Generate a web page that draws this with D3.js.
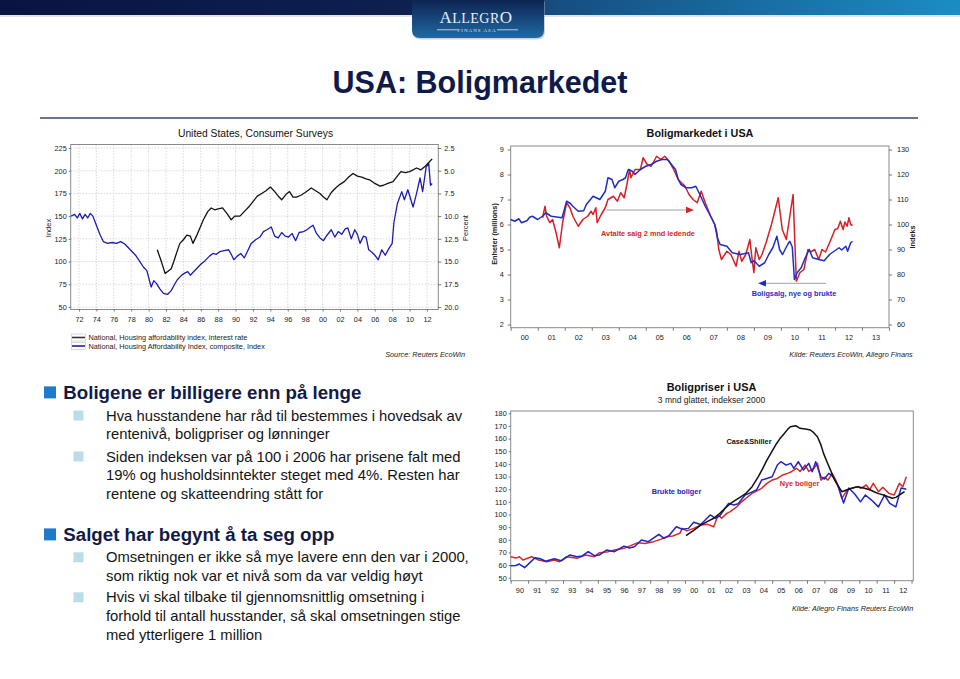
<!DOCTYPE html>
<html><head><meta charset="utf-8">
<script src="https://cdn.jsdelivr.net/npm/d3@7"></script>
<style>
html,body{margin:0;padding:0;background:#fff;}
svg{display:block;font-family:"Liberation Sans",Arial,sans-serif;}
</style></head><body>
<svg id="s" width="960" height="679"></svg>
<script>
// ================= DATA =================
const slideTitle = "USA: Boligmarkedet";

// --- Top-left chart: United States, Consumer Surveys ---
const tlTitle = "United States, Consumer Surveys";
const tlLeftTicks = [50, 75, 100, 125, 150, 175, 200, 225];
const tlRightTicks = [2.5, 5, 7.5, 10, 12.5, 15, 17.5, 20];
const tlYearTicks = [1972,1974,1976,1978,1980,1982,1984,1986,1988,1990,1992,1994,1996,1998,2000,2002,2004,2006,2008,2010,2012];
const tlLegend = ["National, Housing affordability index, interest rate", "National, Housing Affordability Index, composite, Index"];
// interest rate (percent, right axis, inverted)
const rateYears = [1981.0,1981.4,1981.9,1982.2,1982.6,1982.9,1983.2,1983.6,1984.0,1984.4,1984.8,1985.1,1985.5,1985.9,1986.3,1986.8,1987.2,1987.6,1988.0,1988.5,1989.0,1989.5,1989.9,1990.5,1991.0,1991.5,1992.0,1992.5,1993.0,1993.5,1994.0,1994.5,1995.0,1995.3,1995.8,1996.2,1996.6,1997.0,1997.5,1998.0,1998.7,1999.2,1999.7,2000.1,2000.5,2001.0,2001.5,2002.0,2002.5,2003.0,2003.5,2004.0,2004.5,2005.0,2005.4,2006.0,2006.6,2007.0,2007.5,2008.1,2008.5,2009.0,2009.5,2010.0,2010.8,2011.3,2011.8,2012.2,2012.6];
const rateValues = [13.7,14.8,16.3,16.1,15.8,15.0,14.1,13.0,12.6,12.1,12.2,13.0,12.2,11.3,10.4,9.5,9.1,9.3,9.2,9.1,9.7,10.4,10.0,10.0,9.5,9.0,8.4,7.8,7.5,7.2,6.8,7.3,7.9,8.2,7.6,7.3,7.9,7.9,7.7,7.4,6.9,7.2,7.5,7.9,8.2,7.4,6.9,6.5,6.2,5.7,5.3,5.6,5.7,5.9,6.0,6.4,6.7,6.6,6.4,6.2,5.7,5.1,5.2,5.1,4.7,4.9,4.5,4.1,3.7];
// composite affordability index (left axis)
const compYears = [1971.1,1971.5,1971.8,1972.1,1972.4,1972.7,1973.0,1973.3,1973.6,1974.0,1974.4,1974.8,1975.3,1975.8,1976.3,1976.8,1977.3,1977.9,1978.5,1979.0,1979.4,1979.8,1980.3,1980.6,1980.9,1981.3,1981.7,1982.2,1982.6,1983.0,1983.3,1983.7,1984.1,1984.5,1984.8,1985.2,1985.6,1986.0,1986.5,1987.0,1987.4,1987.8,1988.2,1988.7,1989.2,1989.5,1989.8,1990.2,1990.6,1991.0,1991.4,1991.8,1992.3,1992.8,1993.2,1993.6,1994.1,1994.5,1994.9,1995.3,1995.7,1996.1,1996.5,1996.9,1997.3,1997.8,1998.2,1998.6,1998.9,1999.3,1999.7,2000.1,2000.5,2001.0,2001.4,2001.8,2002.2,2002.6,2002.9,2003.3,2003.7,2004.0,2004.3,2004.7,2005.0,2005.3,2005.7,2006.0,2006.4,2006.8,2007.2,2007.6,2008.0,2008.2,2008.6,2009.1,2009.4,2009.8,2010.4,2010.8,2011.2,2011.5,2011.9,2012.2,2012.4,2012.6];
const compValues = [150,152,148,153,147,152,148,153,150,140,130,122,120,121,120,122,119,113,107,100,94,90,72,79,76,70,65,64,68,75,80,84,87,89,85,89,93,97,101,106,109,108,111,112,113,108,102,106,109,104,112,120,124,127,133,135,138,128,126,132,128,127,131,123,132,133,135,138,140,131,126,123,129,135,127,133,130,136,137,125,135,130,120,128,127,113,110,107,102,113,107,114,120,143,164,177,168,179,160,175,192,177,204,208,184,186];

// --- Top-right chart: Boligmarkedet i USA ---
const trTitle = "Boligmarkedet i USA";
const trLeftTicks = [2, 3, 4, 5, 6, 7, 8, 9];
const trRightTicks = [60, 70, 80, 90, 100, 110, 120, 130];
const trYears = [2000,2001,2002,2003,2004,2005,2006,2007,2008,2009,2010,2011,2012,2013];
// home sales, new and existing (millions, left axis)
const salesYears = [2000.0,2000.15,2000.3,2000.4,2000.6,2000.7,2000.8,2001.0,2001.2,2001.3,2001.4,2001.5,2001.7,2001.9,2002.07,2002.2,2002.3,2002.5,2002.7,2002.8,2003.05,2003.3,2003.5,2003.6,2003.75,2003.85,2004.0,2004.15,2004.25,2004.35,2004.5,2004.6,2004.8,2005.0,2005.2,2005.4,2005.6,2005.8,2005.95,2006.1,2006.2,2006.3,2006.5,2006.7,2006.85,2007.0,2007.2,2007.4,2007.55,2007.65,2007.75,2008.0,2008.2,2008.5,2008.8,2008.9,2009.0,2009.2,2009.4,2009.55,2009.7,2009.85,2009.95,2010.06,2010.25,2010.33,2010.42,2010.5,2010.6,2010.75,2010.9,2011.05,2011.17,2011.4,2011.6,2011.8,2011.97,2012.15,2012.25,2012.4,2012.47,2012.58,2012.65];
const salesValues = [6.2,6.13,6.23,6.07,6.15,6.29,6.33,6.2,6.35,6.47,6.4,6.33,6.3,6.27,6.93,6.85,6.73,6.53,6.55,6.8,7.13,7.0,7.33,7.87,7.8,7.47,7.73,7.8,7.87,8.2,8.13,8.0,8.2,8.33,8.4,8.53,8.6,8.6,8.4,8.2,7.8,7.6,7.47,7.47,7.53,7.2,6.73,6.33,6.0,5.47,5.2,5.13,4.87,4.8,4.87,4.47,4.55,4.33,4.47,4.8,5.07,5.53,5.0,4.8,5.2,5.33,5.1,3.8,4.07,4.27,4.67,5.0,4.67,4.6,4.55,4.8,4.93,5.07,4.98,5.13,4.93,5.27,5.33];
// pending home sales, 2 months leading (index, right axis)
const pendYears = [2001.18,2001.27,2001.33,2001.45,2001.55,2001.68,2001.8,2001.92,2002.07,2002.2,2002.3,2002.5,2002.67,2002.85,2002.97,2003.05,2003.15,2003.2,2003.35,2003.5,2003.6,2003.8,2003.95,2004.07,2004.2,2004.3,2004.4,2004.45,2004.6,2004.8,2004.9,2005.05,2005.2,2005.4,2005.55,2005.7,2005.85,2006.0,2006.2,2006.45,2006.6,2006.75,2006.9,2007.05,2007.2,2007.4,2007.55,2007.62,2007.7,2007.8,2008.0,2008.15,2008.34,2008.45,2008.55,2008.7,2008.85,2008.95,2009.0,2009.07,2009.2,2009.3,2009.45,2009.65,2009.9,2010.05,2010.2,2010.45,2010.57,2010.7,2010.85,2011.0,2011.1,2011.25,2011.4,2011.52,2011.65,2011.8,2011.9,2012.0,2012.1,2012.2,2012.3,2012.37,2012.45,2012.52,2012.58,2012.65];
const pendValues = [102.7,107.3,103.3,100.7,102,96.7,90.7,100.7,108.7,106.5,103.3,99.3,102,103.3,105.3,104,106.7,100.7,104,106.7,110,111.3,109.3,112.7,110.7,116,122,118.7,122,122,126.7,124,123.3,127.3,126,127.3,125.5,122.7,118,115.3,112,110,108.7,113.3,108.7,103.3,100,97.3,90,86,89.3,88,83.3,89.3,85.3,88,94,84.7,80.7,90.7,86,88,92.7,100,110.7,98,94,112,77.3,80.7,82,90,89,90,86,90,89,92.7,95.3,98,98.3,101.3,98,101,99.3,102.7,100,99.6];
const trLabels = ["Avtalte salg 2 mnd ledende", "Boligsalg, nye og brukte"];

// --- Bottom-right chart: Boligpriser i USA ---
const brTitle = "Boligpriser i USA";
const brSubtitle = "3 mnd glattet, indekser 2000";
const brTicks = [50, 60, 70, 80, 90, 100, 110, 120, 130, 140, 150, 160, 170, 180];
const brYears = [1990,1991,1992,1993,1994,1995,1996,1997,1998,1999,2000,2001,2002,2003,2004,2005,2006,2007,2008,2009,2010,2011,2012];
const csYears = [2000.06,2000.5,2000.9,2001.3,2001.65,2002.0,2002.3,2002.6,2002.9,2003.2,2003.5,2003.85,2004.2,2004.45,2004.7,2004.95,2005.2,2005.45,2005.7,2005.9,2006.05,2006.35,2006.6,2006.9,2007.2,2007.4,2007.6,2007.8,2007.95,2008.15,2008.35,2008.5,2008.7,2009.0,2009.3,2009.6,2009.9,2010.3,2010.6,2010.85,2011.1,2011.4,2011.65,2011.9,2012.1,2012.3,2012.6];
const csValues = [83.2,87.5,91.6,94.5,97,101,104.9,108.5,111.4,114,116.7,122,129.8,136,143,149,154.9,160,164.1,167.5,169.4,170.2,168.1,167.5,166.8,164.5,161.5,155,148.3,141.5,135.1,129.5,124.6,118,119.5,121,121.9,120.7,119.5,118,116.5,115.4,114,112.8,113.5,115.4,118];
const usedYears = [1990.0,1990.3,1990.5,1990.8,1991.1,1991.4,1991.7,1992.0,1992.5,1992.9,1993.4,1993.8,1994.1,1994.45,1994.8,1995.1,1995.5,1995.95,1996.5,1996.8,1997.1,1997.5,1997.9,1998.5,1998.8,1999.1,1999.5,1999.85,2000.2,2000.5,2000.9,2001.45,2001.75,2002.0,2002.5,2002.8,2003.05,2003.3,2003.45,2003.8,2004.1,2004.4,2004.6,2005.0,2005.3,2005.5,2005.8,2006.07,2006.25,2006.5,2006.8,2007.1,2007.3,2007.5,2007.8,2008.0,2008.25,2008.5,2008.8,2009.1,2009.4,2009.75,2010.07,2010.35,2010.7,2011.1,2011.45,2011.75,2012.1,2012.4,2012.7];
const usedValues = [59.5,59.7,60.8,57.9,61.9,65.8,65,63,65,63.4,68,66.6,67.2,70.6,67.4,68,71.9,70.6,75,73.5,74.5,79.8,78.5,84.3,81.1,83.5,90.3,88.3,89,93.8,92,99.6,97,99,108.8,107.5,108.5,112.8,115.4,117.5,119.3,127.2,128,129.8,139.1,141.7,139,140.4,136.5,141.7,135.1,140.4,133.8,141.7,129.8,128,132.5,130,121.9,109,121,116,110,115.4,111.4,106,115.4,108.8,106,121,120];
const newYears = [1990.0,1990.3,1990.5,1990.7,1991.2,1991.6,1992.07,1992.5,1992.8,1993.2,1993.8,1994.3,1994.8,1995.1,1995.6,1995.95,1996.5,1996.95,1997.3,1997.7,1998.2,1998.6,1998.95,1999.3,1999.7,1999.85,2000.1,2000.5,2000.9,2001.3,2001.65,2001.9,2002.1,2002.4,2002.6,2002.97,2003.25,2003.5,2003.85,2004.4,2004.7,2005.0,2005.3,2005.6,2005.9,2006.1,2006.4,2006.6,2006.9,2007.1,2007.4,2007.6,2007.8,2008.0,2008.2,2008.45,2008.65,2008.8,2009.0,2009.3,2009.6,2009.9,2010.1,2010.4,2010.6,2010.8,2011.1,2011.35,2011.7,2012.0,2012.3,2012.5,2012.7];
const newValues = [66.6,65.5,66.6,64,66.6,64,62.6,64,62.6,66.6,65.3,68,66.6,69.8,70.6,71.9,73.2,75.8,77.7,77,78.5,80.3,82.4,83,85.1,89,87,89,91.6,92.2,90.3,99.6,97,100.9,102.2,106.1,110,112.8,116.7,120.7,124.6,127.2,128.5,131.2,132.5,133.8,136.5,134,139.1,134,136.5,140.4,127.2,129.5,127.2,132.5,127.2,121.9,112.8,119.3,120.7,122,120.7,123.3,119.5,124.6,118,121.5,116.7,115.4,124.6,121.9,129.8];
const brLabels = ["Case&Shiller", "Brukte boliger", "Nye boliger"];

// --- Bullet text ---
const bullets = [
  {head: "Boligene er billigere enn på lenge", items: [
    ["Hva husstandene har råd til bestemmes i hovedsak av", "rentenivå, boligpriser og lønninger"],
    ["Siden indeksen var på 100 i 2006 har prisene falt med", "19% og husholdsinntekter steget med 4%. Resten har", "rentene og skatteendring stått for"]]},
  {head: "Salget har begynt å ta seg opp", items: [
    ["Omsetningen er ikke så mye lavere enn den var i 2000,", "som riktig nok var et nivå som da var veldig høyt"],
    ["Hvis vi skal tilbake til gjennomsnittlig omsetning i", "forhold til antall husstander, så skal omsetningen stige", "med ytterligere 1 million"]]}
];

// ================= DRAWING =================
const svg = d3.select("#s");
const defs = svg.append("defs");
const FS = 7.3;

// header bar
const hg = defs.append("linearGradient").attr("id","hbar").attr("x1","0").attr("x2","1").attr("y1","0").attr("y2","0");
[["0%","#0a1440"],["42%","#0d2050"],["58%","#164e80"],["100%","#1b8dc3"]].forEach(s=>hg.append("stop").attr("offset",s[0]).attr("stop-color",s[1]));
svg.append("rect").attr("x",0).attr("y",0).attr("width",960).attr("height",15).attr("fill","url(#hbar)");
svg.append("rect").attr("x",0).attr("y",15).attr("width",960).attr("height",2).attr("fill","#c9d3de").attr("opacity",0.6);
// logo tab
const lg = defs.append("linearGradient").attr("id","logo").attr("x1","0").attr("x2","0").attr("y1","0").attr("y2","1");
[["0%","#0d2452"],["100%","#1f6aa3"]].forEach(s=>lg.append("stop").attr("offset",s[0]).attr("stop-color",s[1]));
svg.append("path").attr("d","M412,0 L412,30 Q412,38 420,38 L536,38 Q544,38 544,30 L544,0 Z").attr("fill","#9aa8b8").attr("transform","translate(1,1.5)").attr("opacity",0.5);
svg.append("path").attr("d","M412,0 L412,30 Q412,38 420,38 L536,38 Q544,38 544,30 L544,0 Z").attr("fill","url(#logo)");
const lt = svg.append("text").attr("x",476).attr("y",23).attr("text-anchor","middle").attr("fill","#e9eef5")
  .attr("font-family","'Liberation Serif','DejaVu Serif',serif").attr("letter-spacing",0.5);
lt.append("tspan").attr("font-size",17).text("A");
lt.append("tspan").attr("font-size",14).text("LLEGR");
lt.append("tspan").attr("font-size",17).text("O");
svg.append("text").attr("x",477).attr("y",31.5).attr("text-anchor","middle").attr("fill","#dfe6ef")
  .attr("font-size",5).attr("letter-spacing",1).attr("font-family","'Liberation Serif',serif").text("FINANS ASA");
svg.append("line").attr("x1",437).attr("x2",458).attr("y1",29.8).attr("y2",29.8).attr("stroke","#dfe6ef").attr("stroke-width",0.8);
svg.append("line").attr("x1",497).attr("x2",518).attr("y1",29.8).attr("y2",29.8).attr("stroke","#dfe6ef").attr("stroke-width",0.8);

// slide title
svg.append("text").attr("x",480).attr("y",93).attr("text-anchor","middle").attr("font-size",30.5)
  .attr("font-weight","bold").attr("fill","#101a4a").text(slideTitle);
svg.append("line").attr("x1",40).attr("x2",918).attr("y1",118).attr("y2",118).attr("stroke","#3a4868").attr("stroke-width",1.3);

function styleAxis(g, fs) {
  g.select(".domain").remove();
  g.selectAll(".tick line").attr("stroke","#555").attr("stroke-width",0.8);
  g.selectAll(".tick text").attr("font-size",fs||FS).attr("fill","#222").attr("font-family","'Liberation Sans',Arial,sans-serif");
}
function drawSeries(g, xs, ys, xs_, ys_, color, w) {
  const pts = xs.map((x,i)=>[x, ys[i]]);
  g.append("path").datum(pts)
    .attr("d", d3.line().x(d=>xs_(d[0])).y(d=>ys_(d[1])))
    .attr("fill","none").attr("stroke",color).attr("stroke-width",w).attr("stroke-linejoin","round");
}
const yearFmt = d => String(Math.floor(d) % 100).padStart(2,"0");

// ---------- Top-left chart ----------
{
  const L = 70.7, R = 438.3, T = 144.5, B = 309.5;
  const x = d3.scaleLinear().domain([1971.05, 2013.3]).range([L, R]);
  const yL = d3.scaleLinear().domain([50, 225]).range([307, 148]);
  const yR = d3.scaleLinear().domain([20, 2.5]).range([307, 148]);
  const g = svg.append("g");
  g.append("text").attr("x",255.5).attr("y",137).attr("text-anchor","middle").attr("font-size",10.3).attr("fill","#111").text(tlTitle);
  // grid
  g.selectAll(".hg").data(tlLeftTicks).enter().append("line")
    .attr("x1",L).attr("x2",R).attr("y1",d=>yL(d)).attr("y2",d=>yL(d))
    .attr("stroke","#c8c8c8").attr("stroke-width",0.7).attr("stroke-dasharray","1.5,1.5");
  g.selectAll(".vg").data(tlYearTicks).enter().append("line")
    .attr("x1",d=>x(d)).attr("x2",d=>x(d)).attr("y1",T).attr("y2",B)
    .attr("stroke","#c8c8c8").attr("stroke-width",0.7).attr("stroke-dasharray","1.5,1.5");
  g.append("rect").attr("x",L).attr("y",T).attr("width",R-L).attr("height",B-T).attr("fill","none").attr("stroke","#8a8a8a").attr("stroke-width",1);
  const ga = g.append("g").attr("transform",`translate(${L},0)`).call(d3.axisLeft(yL).tickValues(tlLeftTicks).tickSize(2).tickPadding(2).tickFormat(d3.format("d")));
  styleAxis(ga);
  const gr = g.append("g").attr("transform",`translate(${R},0)`).call(d3.axisRight(yR).tickValues(tlRightTicks).tickSize(3).tickPadding(3).tickFormat(d3.format(".1f")));
  styleAxis(gr);
  const gx = g.append("g").attr("transform",`translate(0,${B})`).call(d3.axisBottom(x).tickValues(tlYearTicks).tickSize(2).tickPadding(5).tickFormat(yearFmt));
  styleAxis(gx);
  g.append("text").attr("transform","translate(50.5,228) rotate(-90)").attr("text-anchor","middle").attr("font-size",7.5).attr("fill","#222").text("Index");
  g.append("text").attr("transform","translate(467.5,228) rotate(-90)").attr("text-anchor","middle").attr("font-size",7.5).attr("fill","#222").text("Percent");
  drawSeries(g, compYears, compValues, x, yL, "#1c1cb0", 1.3);
  drawSeries(g, rateYears, rateValues, x, yR, "#111", 1.3);
  // legend
  [["#333",337.5],["#1c1cb0",346]].forEach((d,i)=>{
    g.append("rect").attr("x",71.5).attr("y",d[1]-3.5).attr("width",14).attr("height",7).attr("fill","none").attr("stroke","#c9c9c9").attr("stroke-width",0.7);
    g.append("line").attr("x1",72).attr("x2",85).attr("y1",d[1]).attr("y2",d[1]).attr("stroke",d[0]).attr("stroke-width",1.6);
    g.append("text").attr("x",88.5).attr("y",d[1]+2.6).attr("font-size",FS).attr("fill","#222").text(tlLegend[i]);
  });
  g.append("text").attr("x",465).attr("y",356.6).attr("text-anchor","end").attr("font-size",FS).attr("font-style","italic").attr("fill","#222").text("Source: Reuters EcoWin");
}

// ---------- Top-right chart ----------
{
  const L = 510.7, R = 889, T = 146, B = 327.7;
  const x = d3.scaleLinear().domain([2000, 2014]).range([L, R]);
  const yL = d3.scaleLinear().domain([2, 9]).range([324.5, 149.5]);
  const yR = d3.scaleLinear().domain([60, 130]).range([324.5, 149.5]);
  const g = svg.append("g");
  g.append("text").attr("x",700).attr("y",137).attr("text-anchor","middle").attr("font-size",10.8).attr("font-weight","bold").attr("fill","#111").text(trTitle);
  g.append("rect").attr("x",L).attr("y",T).attr("width",R-L).attr("height",B-T).attr("fill","none").attr("stroke","#8a8a8a").attr("stroke-width",1);
  styleAxis(g.append("g").attr("transform",`translate(${L},0)`).call(d3.axisLeft(yL).tickValues(trLeftTicks).tickSize(3).tickPadding(4).tickFormat(d3.format("d"))));
  styleAxis(g.append("g").attr("transform",`translate(${R},0)`).call(d3.axisRight(yR).tickValues(trRightTicks).tickSize(3).tickPadding(5).tickFormat(d3.format("d"))));
  const tickYears = trYears.concat([2014]);
  const gt = g.append("g").attr("transform",`translate(0,${B})`).call(d3.axisBottom(x).tickValues(tickYears).tickSize(3).tickFormat(""));
  styleAxis(gt);
  const gl = g.append("g").attr("transform",`translate(0,${B})`).call(d3.axisBottom(x).tickValues(trYears.map(d=>d+0.5)).tickSize(0).tickPadding(7.4).tickFormat(yearFmt));
  styleAxis(gl);
  g.append("text").attr("transform","translate(497,234) rotate(-90)").attr("text-anchor","middle").attr("font-size",FS).attr("font-weight","bold").attr("fill","#222").text("Enheter (millions)");
  g.append("text").attr("transform","translate(914.5,237) rotate(-90)").attr("text-anchor","middle").attr("font-size",FS).attr("font-weight","bold").attr("fill","#222").text("Indeks");
  drawSeries(g, pendYears, pendValues, x, yR, "#d61f26", 1.5);
  drawSeries(g, salesYears, salesValues, x, yL, "#1f2fc2", 1.5);
  // annotations
  g.append("line").attr("x1",606.7).attr("x2",686).attr("y1",210).attr("y2",210).attr("stroke","#a0a0a0").attr("stroke-width",1);
  g.append("path").attr("d","M686,206.8 L694,210 L686,213.2 Z").attr("fill","#d61f26");
  g.append("text").attr("x",648).attr("y",236).attr("text-anchor","middle").attr("font-size",FS).attr("font-weight","bold").attr("fill","#d61f26").text(trLabels[0]);
  g.append("line").attr("x1",826).attr("x2",766).attr("y1",283.3).attr("y2",283.3).attr("stroke","#a0a0a0").attr("stroke-width",1);
  g.append("path").attr("d","M766,280.1 L758,283.3 L766,286.5 Z").attr("fill","#1f2fc2");
  g.append("text").attr("x",794).attr("y",296).attr("text-anchor","middle").attr("font-size",FS).attr("font-weight","bold").attr("fill","#1f2fc2").text(trLabels[1]);
  g.append("text").attr("x",912.7).attr("y",356.6).attr("text-anchor","end").attr("font-size",FS).attr("font-style","italic").attr("fill","#222").text("Kilde: Reuters EcoWin, Allegro Finans");
}

// ---------- Bottom-right chart ----------
{
  const L = 510.7, R = 913.3, T = 411, B = 580.7;
  const x = d3.scaleLinear().domain([1990, 2013.1]).range([L, R]);
  const y = d3.scaleLinear().domain([50, 180]).range([577.7, 413.3]);
  const g = svg.append("g");
  g.append("text").attr("x",711.5).attr("y",391.2).attr("text-anchor","middle").attr("font-size",10.9).attr("font-weight","bold").attr("fill","#111").text(brTitle);
  g.append("text").attr("x",711.5).attr("y",403).attr("text-anchor","middle").attr("font-size",8.5).attr("fill","#222").text(brSubtitle);
  g.append("rect").attr("x",L).attr("y",T).attr("width",R-L).attr("height",B-T).attr("fill","none").attr("stroke","#8a8a8a").attr("stroke-width",1);
  styleAxis(g.append("g").attr("transform",`translate(${L},0)`).call(d3.axisLeft(y).tickValues(brTicks).tickSize(2).tickPadding(2).tickFormat(d3.format("d"))));
  styleAxis(g.append("g").attr("transform",`translate(0,${B})`).call(d3.axisBottom(x).tickValues(brYears.concat([2013])).tickSize(3).tickFormat("")));
  styleAxis(g.append("g").attr("transform",`translate(0,${B})`).call(d3.axisBottom(x).tickValues(brYears.map(d=>d+0.5)).tickSize(0).tickPadding(7.4).tickFormat(yearFmt)));
  drawSeries(g, newYears, newValues, x, y, "#d62a2a", 1.5);
  drawSeries(g, usedYears, usedValues, x, y, "#2323c6", 1.5);
  drawSeries(g, csYears, csValues, x, y, "#111", 1.5);
  g.append("text").attr("x",749).attr("y",444.3).attr("text-anchor","middle").attr("font-size",FS).attr("font-weight","bold").attr("fill","#111").text(brLabels[0]);
  g.append("text").attr("x",676.5).attr("y",494.3).attr("text-anchor","middle").attr("font-size",FS).attr("font-weight","bold").attr("fill","#2323c6").text(brLabels[1]);
  g.append("text").attr("x",799.5).attr("y",486).attr("text-anchor","middle").attr("font-size",FS).attr("font-weight","bold").attr("fill","#d62a2a").text(brLabels[2]);
  g.append("text").attr("x",913.3).attr("y",611).attr("text-anchor","end").attr("font-size",FS).attr("font-style","italic").attr("fill","#222").text("Kilde: Allegro Finans Reuters EcoWin");
}

// ---------- Bullets ----------
{
  const g = svg.append("g");
  const headBase = [398.7, 540.7];
  const itemBase = [[420.5, 461.5], [562.3, 602.3]];
  const LH = 18.7;
  bullets.forEach((b, bi) => {
    g.append("rect").attr("x",44).attr("y",headBase[bi]-12.3).attr("width",12).attr("height",12).attr("fill","#1f7acb");
    g.append("text").attr("x",63.3).attr("y",headBase[bi]).attr("font-size",18.7).attr("font-weight","bold").attr("fill","#121a47").text(b.head);
    b.items.forEach((lines, ii) => {
      const y0 = itemBase[bi][ii];
      g.append("rect").attr("x",73.5).attr("y",y0-10).attr("width",10).attr("height",10).attr("fill","#bcdce9");
      lines.forEach((ln, li) => {
        g.append("text").attr("x",106).attr("y",y0 + li*LH).attr("font-size",14.8).attr("fill","#141414").text(ln);
      });
    });
  });
}
</script>
</body></html>
